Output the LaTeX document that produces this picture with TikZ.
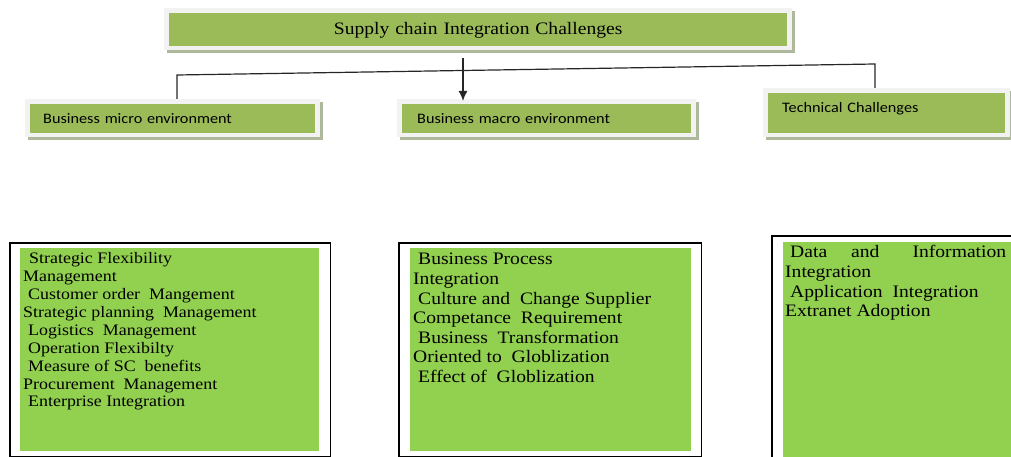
\documentclass[tikz,border=0pt]{standalone}
\usepackage{fontspec}
\setmainfont[FakeStretch=1.12]{Liberation Serif}
\newfontfamily\labelfont[FakeStretch=1.12]{Carlito}
\usetikzlibrary{arrows.meta,calc,backgrounds}
\definecolor{headgreen}{HTML}{9BBB59}
\definecolor{listgreen}{HTML}{92D050}
\definecolor{framegrey}{HTML}{F2F2F2}
\definecolor{shadowgrey}{HTML}{AEB89A}

\begin{document}
\begin{tikzpicture}[x=1pt,y=-1pt]
		\tikzset{headbox/.style = {fill=headgreen, anchor=north west, align=left, inner ysep=3pt,
			text height=16.3pt, text depth=6.7pt, font=\labelfont\fontsize{14.5}{17}\selectfont}}
		\tikzset{listbox/.style = {fill=listgreen, anchor=north west, inner sep=3pt}}
		\tikzset{boxframe/.style = {draw=black, line width=1.3pt}}
		\tikzset{link/.style = {draw=black!85, line width=1.2pt}}
		
		\useasboundingbox (0,0) rectangle (1011,457);
		\clip (0,0) rectangle (1011,457);
		
		\node[headbox, inner xsep=0pt, text width=618pt, align=center, text height=18.3pt, text depth=8.7pt,
			font=\fontsize{17.5}{21}\selectfont] (title) at (169,13) {Supply chain Integration Challenges};
		
		\node[headbox, inner xsep=13pt, text width=259pt] (micro) at ( 30,104) {Business micro environment};
		\node[headbox, inner xsep=15pt, text width=259pt] (macro) at (402,104) {Business macro environment};
		\node[headbox, inner xsep=14pt, text width=209pt, inner ysep=4pt,
			text height=15.7pt, text depth=16.3pt] (tech) at (768, 93) {Technical Challenges};
		
		\node[listbox, font=\fontsize{16}{17.9}\selectfont] (microlist) at ( 20,248) {\begin{minipage}[t][197pt][t]{293pt}
			\strut\hspace*{6pt}Strategic Flexibility\\
			Management\\
			\hspace*{5pt}Customer order~ Mangement\\
			Strategic planning~ Management\\
			\hspace*{5pt}Logistics~ Management\\
			\hspace*{5pt}Operation Flexibilty\\
			\hspace*{5pt}Measure of SC~ benefits\\
			Procurement~ Management\\
			\hspace*{5pt}Enterprise Integration
		\end{minipage}};
		\node[listbox, font=\fontsize{17.5}{19.6}\selectfont] (macrolist) at (410,248) {\begin{minipage}[t][197pt][t]{275pt}
			\strut\hspace*{5pt}Business Process\\
			Integration\\
			\hspace*{5pt}Culture and~ Change Supplier\\
			Competance~ Requirement\\
			\hspace*{5pt}Business~ Transformation\\
			Oriented to~ Globlization\\
			\hspace*{5pt}Effect of~ Globlization
		\end{minipage}};
		\node[listbox, inner sep=2pt, font=\fontsize{17.5}{19.6}\selectfont] (techlist) at (783,242) {\begin{minipage}[t][230pt][t]{230pt}
			\strut\makebox[221pt][l]{\hspace*{5pt}Data\hspace{24pt}and\hfill Information}\\
			Integration\\
			\hspace*{5pt}Application~ Integration\\
			Extranet Adoption
		\end{minipage}};
		
		\begin{scope}[on background layer]
			\foreach \n in {title,micro,macro,tech} {
				\fill[shadowgrey] ($(\n.north west)+(-2,-2)$) rectangle ($(\n.south east)+(8,7)$);
				\fill[framegrey]  ($(\n.north west)+(-5,-5)$) rectangle ($(\n.south east)+(5,4)$);
			}
		\end{scope}
		
		\draw[boxframe] ($(microlist.north west)+(-10,-5)$) rectangle ($(microlist.south east)+(11,5.5)$);
		\draw[boxframe] ($(macrolist.north west)+(-11,-5)$) rectangle ($(macrolist.south east)+(10,5.5)$);
		\draw[boxframe] ($(techlist.north west)+(-11,-6)$) rectangle ($(techlist.south east)+(10,10)$);
		
		\coordinate (split) at (463,58);
		\coordinate (bend left) at (177,75);
		\coordinate (bend right) at (875,64);
		
		\draw[link, line width=1.5pt, -{Latex[length=10pt,width=9pt]}, shorten >=3pt] (split) -- (split |- macro.north);
		\draw[link, shorten <=5pt, shorten >=5pt] (bend left |- micro.north) -- (bend left) -- (bend right) -- (bend right |- tech.north);
\end{tikzpicture}
\end{document}
